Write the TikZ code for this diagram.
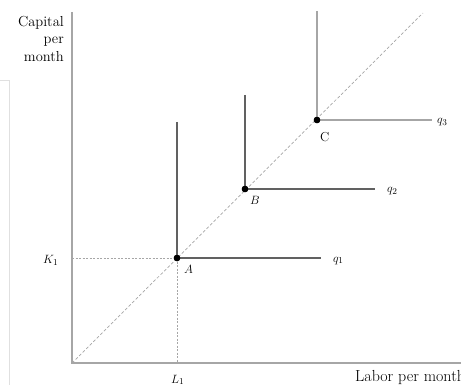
\documentclass[tikz,border=0pt]{standalone}
\begin{document}
\begin{tikzpicture}[x=1pt,y=-1pt,
  axis/.style={draw=black!35,line width=1.2pt},
  iso/.style={draw=black!62,line width=1.3pt},
  isolight/.style={draw=black!35,line width=1.2pt},
  guide/.style={draw=black!35,line width=0.6pt,dash pattern=on 2pt off 1.5pt},
  ray/.style={draw=black!35,line width=0.7pt,dash pattern=on 3pt off 2pt},
  pt/.style={circle,fill=black,inner sep=0pt,minimum size=6.5pt},
  lbl/.style={font=\fontsize{13}{15}\selectfont,inner sep=0pt},
  tlbl/.style={font=\fontsize{14.5}{17}\selectfont,inner sep=0pt},
  frame/.style={draw=black!12,line width=0.6pt}]
\useasboundingbox (0,0) rectangle (461,385);
\clip (0,0) rectangle (461,385);
% faint frame edge at left
\coordinate (f1) at (0,80);
\coordinate (f2) at (9,80);
\coordinate (f3) at (9,385);
\draw[frame] (f1) -- (f2) -- (f3);
% axes
\coordinate (O) at (72,363);
\coordinate (ytop) at (72,12);
\coordinate (xend) at (461,363);
\draw[axis] (ytop) -- (O) -- (xend);
% ray
\coordinate (rayend) at (423,13);
\draw[ray] (O) -- (rayend);
% points
\node[pt] (A) at (177,258) {};
\node[pt] (B) at (245,189) {};
\node[pt] (C) at (317,120) {};
% guides
\coordinate (Ky) at (72,258);
\coordinate (Lx) at (177,363);
\draw[guide] (Ky) -- (A.center);
\draw[guide] (A.center) -- (Lx);
% isoquants
\coordinate (Atop) at (177,122);
\coordinate (Aend) at (321,258);
\coordinate (Btop) at (245,95);
\coordinate (Bend) at (375,189);
\coordinate (Ctop) at (317,11);
\coordinate (Cend) at (432,120);
\draw[iso] (Atop) -- (A.center) -- (Aend);
\draw[iso] (Btop) -- (B.center) -- (Bend);
\draw[isolight] (Ctop) -- (C.center) -- (Cend);
\node[pt] at (A) {};
\node[pt] at (B) {};
\node[pt] at (C) {};
% labels
\node[lbl,anchor=base west] (q1) at (333,262) {$q_1$};
\node[lbl,anchor=base west] (q2) at (387,193) {$q_2$};
\node[lbl,anchor=base west] (q3) at (437,124) {$q_3$};
\node[lbl,anchor=base west] (Al) at (184,273) {$A$};
\node[lbl,anchor=base west] (Bl) at (250,205) {$B$};
\node[lbl,anchor=base west] (Cl) at (320,142) {C};
\node[lbl,anchor=base west] (K1) at (43,264) {$K_1$};
\node[lbl,anchor=base west] (L1) at (171,383) {$L_1$};
\node[tlbl,font=\fontsize{16}{18}\selectfont,anchor=base west] (xl) at (355,381) {Labor per month};
\node[tlbl,anchor=base east] (yl1) at (64,27) {Capital};
\node[tlbl,anchor=base east] (yl2) at (64,44) {per};
\node[tlbl,anchor=base east] (yl3) at (64,62) {month};
\end{tikzpicture}
\end{document}
